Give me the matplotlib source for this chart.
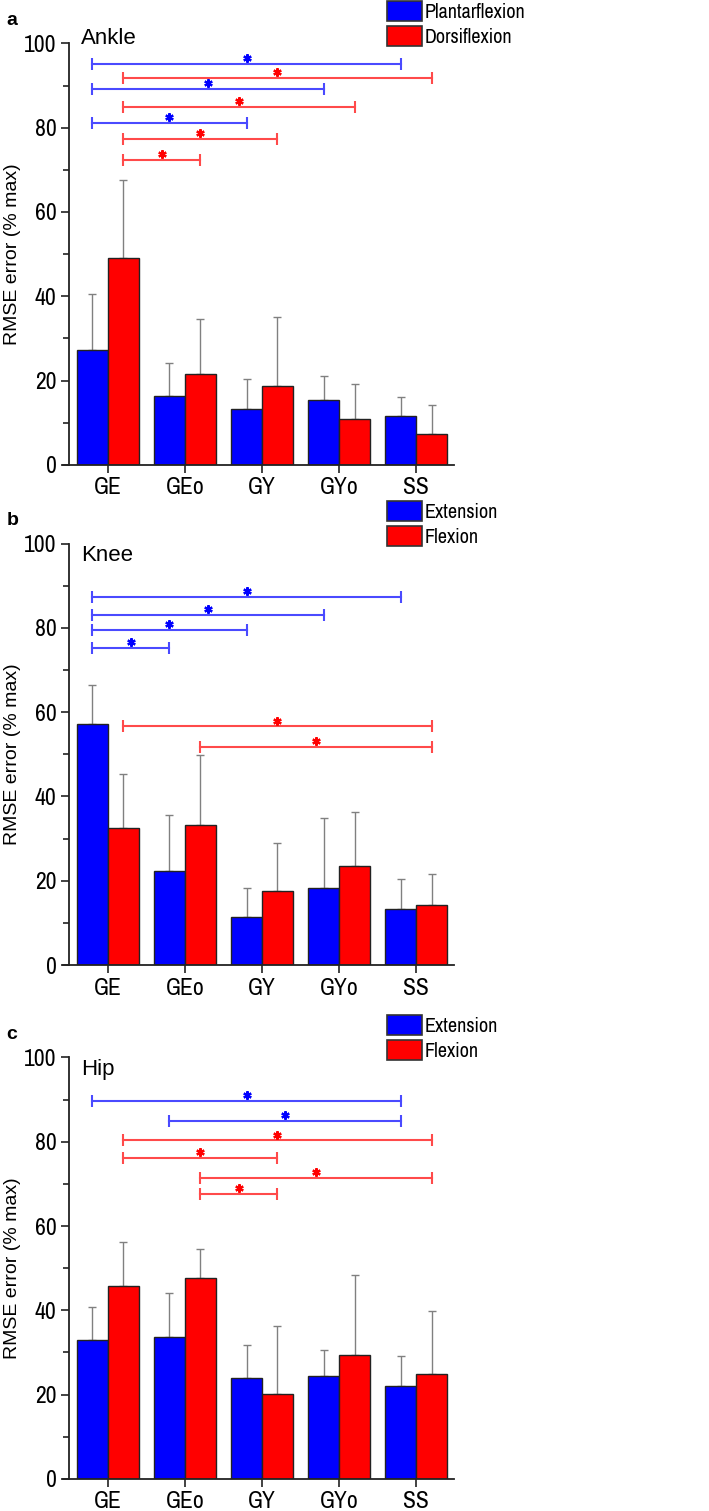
import numpy as np
import matplotlib
matplotlib.use('Agg')
import matplotlib.pyplot as plt
from matplotlib.patches import Patch

plt.rcParams['font.family'] = ['Liberation Sans', 'DejaVu Sans']
# narrow face for tick labels and legend, falls back to Liberation Sans
NARROW = ['Archivo Narrow', 'Liberation Sans', 'DejaVu Sans']

groups = ['GE', 'GEo', 'GY', 'GYo', 'SS']

# panel a - ankle
ankle_plantar = [27.2, 16.4, 13.3, 15.5, 11.5]
ankle_plantar_sd = [13.4, 7.8, 7.0, 5.7, 4.5]
ankle_dorsi = [49.2, 21.6, 18.7, 10.8, 7.3]
ankle_dorsi_sd = [18.5, 13.0, 16.5, 8.3, 6.8]
# (series, from group, to group, height)
ankle_sig = [(0, 0, 4, 95.2), (1, 0, 4, 91.8), (0, 0, 3, 89.1), (1, 0, 3, 85.0),
             (0, 0, 2, 81.2), (1, 0, 2, 77.4), (1, 0, 1, 72.4)]

# panel b - knee
knee_ext = [57.3, 22.2, 11.5, 18.3, 13.2]
knee_ext_sd = [9.1, 13.3, 6.8, 16.6, 7.3]
knee_flex = [32.5, 33.3, 17.6, 23.4, 14.3]
knee_flex_sd = [12.8, 16.6, 11.4, 12.8, 7.3]
knee_sig = [(0, 0, 4, 87.4), (0, 0, 3, 83.1), (0, 0, 2, 79.4), (0, 0, 1, 75.3),
            (1, 0, 4, 56.6), (1, 1, 4, 51.7)]

# panel c - hip
hip_ext = [32.9, 33.6, 24.0, 24.4, 22.0]
hip_ext_sd = [7.8, 10.4, 7.7, 6.1, 7.1]
hip_flex = [45.8, 47.7, 20.2, 29.3, 25.0]
hip_flex_sd = [10.4, 6.8, 16.0, 19.2, 14.8]
hip_sig = [(0, 0, 4, 89.7), (0, 1, 4, 84.9), (1, 0, 4, 80.3), (1, 0, 2, 76.1),
           (1, 1, 4, 71.5), (1, 1, 2, 67.7)]

panels = [
    ('a', 'Ankle', 99.8, ['Plantarflexion', 'Dorsiflexion'],
     ankle_plantar, ankle_plantar_sd, ankle_dorsi, ankle_dorsi_sd, ankle_sig),
    ('b', 'Knee', 95.8, ['Extension', 'Flexion'],
     knee_ext, knee_ext_sd, knee_flex, knee_flex_sd, knee_sig),
    ('c', 'Hip', 95.8, ['Extension', 'Flexion'],
     hip_ext, hip_ext_sd, hip_flex, hip_flex_sd, hip_sig),
]

bar_colors = ['#0000ff', '#ff0000']
sig_colors = ['#4a4aff', '#ff4a4a']
w = 0.4
offs = [-0.2, 0.2]

fig = plt.figure(figsize=(7.09, 15.11), dpi=100)
bottoms = [0.6923, 0.3613, 0.0212]
x = np.arange(len(groups))

for (letter, title, title_y, labels, v1, e1, v2, e2, sig), bot in zip(panels, bottoms):
    ax = fig.add_axes([0.0889, bot, 0.5515, 0.2790])
    for k, (vals, errs) in enumerate([(v1, e1), (v2, e2)]):
        ax.errorbar(x + offs[k], vals, yerr=[np.zeros(len(vals)), errs], fmt='none',
                    ecolor='#808080', elinewidth=1.0, capsize=3, capthick=1.0, zorder=1)
        ax.bar(x + offs[k], vals, w, color=bar_colors[k], edgecolor='#222222',
               linewidth=1.0, zorder=2, label=labels[k])

    # significance brackets
    for s, i, j, yv in sig:
        x0, x1 = i + offs[s], j + offs[s]
        ax.plot([x0, x1], [yv, yv], color=sig_colors[s], lw=1.5, zorder=3)
        ax.plot([x0, x1], [yv, yv], ls='none', marker='|', ms=8, mew=1.5,
                color=sig_colors[s], zorder=3)
        ax.plot((x0 + x1) / 2, yv + 1.4, marker=(6, 2, 0), ms=6, mew=1.6,
                color=bar_colors[s], zorder=3)

    ax.set_xlim(-0.58, 4.49)
    ax.set_ylim(0, 100)
    ax.spines['top'].set_visible(False)
    ax.spines['right'].set_visible(False)
    ax.spines['left'].set_position(('data', -0.5))
    for sp in ['left', 'bottom']:
        ax.spines[sp].set_linewidth(1.3)
        ax.spines[sp].set_color('#222222')
    ax.set_yticks([0, 20, 40, 60, 80, 100])
    ax.set_yticks([10, 30, 50, 70, 90], minor=True)
    ax.set_xticks(x)
    ax.set_xticklabels(groups, family=NARROW, fontsize=17)
    ax.set_yticklabels(['0', '20', '40', '60', '80', '100'], family=NARROW, fontsize=17)
    ax.tick_params(axis='y', which='major', length=6, width=1.2, pad=3, color='#222222')
    ax.tick_params(axis='y', which='minor', length=4, width=1.2, color='#222222')
    ax.tick_params(axis='x', length=6, width=1.2, pad=3, color='#222222')
    ax.set_ylabel('RMSE error (% max)', fontsize=14)
    ax.yaxis.set_label_coords(-0.107, 0.5)

    ax.text(0.045, title_y, title, fontsize=16, va='baseline', ha='left',
            transform=ax.get_yaxis_transform())
    ax.text(-0.145, 1.075, letter, fontsize=14, fontweight='bold', ha='left', va='top',
            transform=ax.transAxes)

    handles = [Patch(facecolor=bar_colors[k], edgecolor='#333333', lw=1.2) for k in range(2)]
    ax.legend(handles, labels, loc='upper left', bbox_to_anchor=(0.829, 1.10),
              frameon=False, borderpad=0, borderaxespad=0, handlelength=1.75,
              handleheight=1.15, handletextpad=0.1, labelspacing=0.2,
              prop={'family': NARROW, 'size': 14.5})

fig.savefig('out.png', dpi=100)
